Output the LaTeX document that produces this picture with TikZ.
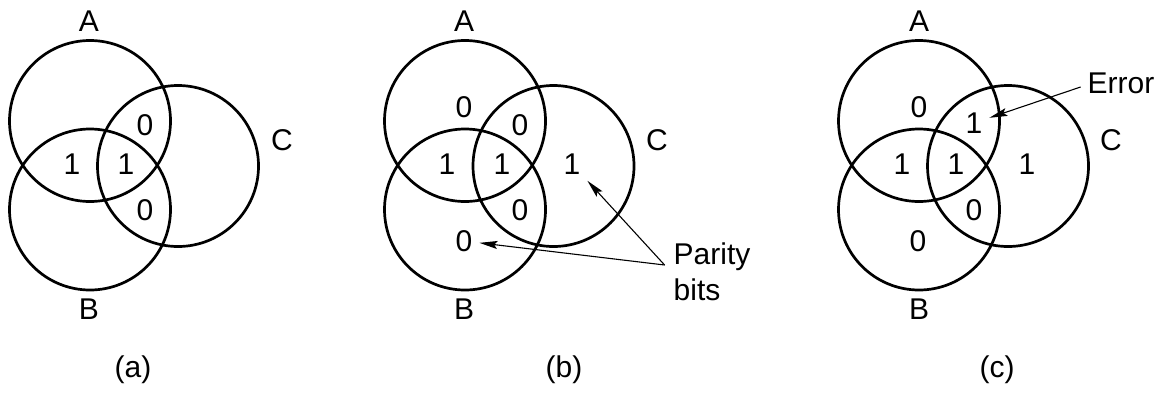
\documentclass[tikz,border=0pt]{standalone}
\usepackage{fontspec}
\setmainfont{Liberation Sans}
\usetikzlibrary{arrows.meta}

\begin{document}
\begin{tikzpicture}[x=0.5pt,y=-0.5pt,
  ring/.style={line width=1.35pt},
  lbl/.style={inner sep=3.33pt,font=\fontsize{15}{18}\selectfont},
  ptr/.style={line width=0.55pt,-{Stealth[length=9pt,width=4pt,inset=1.6pt]}}]
\useasboundingbox (0,0) rectangle (1170,396);
% (a)
\begin{scope}
\draw[ring] (90,121) circle[radius=80.5];
\draw[ring] (90,209.5) circle[radius=80.5];
\draw[ring] (178,166) circle[radius=80.5];
\node[lbl] (aA) at (89,21) {A};
\node[lbl] (aB) at (89,309) {B};
\node[lbl] (aC) at (282,140) {C};
\node[lbl] (aAC) at (145,125) {0};
\node[lbl] (aAB) at (72,164) {1};
\node[lbl] (aABC) at (126,164) {1};
\node[lbl] (aBC) at (145,210) {0};
\end{scope}
\node[lbl] (capa) at (133,370) {(a)};
% (b)
\begin{scope}[shift={(375,0)}]
\draw[ring] (90,121) circle[radius=80.5];
\draw[ring] (90,209.5) circle[radius=80.5];
\draw[ring] (178.5,166) circle[radius=80.5];
\node[lbl] (bA) at (89,21) {A};
\node[lbl] (bB) at (89,309) {B};
\node[lbl] (bC) at (282,140) {C};
\node[lbl] (bAo) at (89,107) {0};
\node[lbl] (bAC) at (145,125) {0};
\node[lbl] (bAB) at (72,164) {1};
\node[lbl] (bABC) at (127,164) {1};
\node[lbl] (bCo) at (197,164) {1};
\node[lbl] (bBC) at (145,210) {0};
\node[lbl] (bBo) at (89,241) {0};
\end{scope}
\node[lbl,align=left] (pb) at (712,272) {Parity\\bits};
\coordinate (pbtail) at ([xshift=-1pt,yshift=3.5pt]pb.west);
\draw[ptr] (pbtail) -- (bCo);
\draw[ptr] (pbtail) -- (bBo);
\node[lbl] (capb) at (564,370) {(b)};
% (c)
\begin{scope}[shift={(829,0)}]
\draw[ring] (90,121) circle[radius=80.5];
\draw[ring] (90,209.5) circle[radius=80.5];
\draw[ring] (179,166) circle[radius=80.5];
\node[lbl] (cA) at (90,21) {A};
\node[lbl] (cB) at (90,309) {B};
\node[lbl] (cC) at (282,140) {C};
\node[lbl] (cAo) at (90,107) {0};
\node[lbl] (cAC) at (145,123) {1};
\node[lbl] (cAB) at (73,164) {1};
\node[lbl] (cABC) at (127,164) {1};
\node[lbl] (cCo) at (198,164) {1};
\node[lbl] (cBC) at (145,210) {0};
\node[lbl] (cBo) at (89,241) {0};
\end{scope}
\node[lbl] (err) at (1121,83) {Error};
\draw[ptr] ([yshift=-2pt]err.west) -- (cAC);
\node[lbl] (capc) at (997,370) {(c)};
\end{tikzpicture}
\end{document}
